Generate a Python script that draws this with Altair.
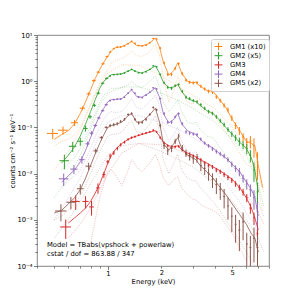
import altair as alt
import pandas as pd

SERIES = ["GM1 (x10)", "GM2 (x5)", "GM3", "GM4", "GM5 (x2)"]
COLORS = ["#ff7f0e", "#2ca02c", "#d62728", "#9467bd", "#8c564b"]
FONT = "DejaVu Sans"

# ---------- data bins above 1 keV (shared energy grid) ----------
HI_E = [1.03, 1.08, 1.13, 1.18, 1.24, 1.3, 1.36, 1.42, 1.49, 1.56,
        1.64, 1.72, 1.8, 1.88, 1.97, 2.07, 2.17, 2.28, 2.39, 2.5,
        2.62, 2.75, 2.88, 3.02, 3.17, 3.33, 3.5, 3.68, 3.87, 4.07,
        4.28, 4.5, 4.73, 4.97, 5.22, 5.48, 5.75, 6.03, 6.32, 6.62, 6.93]
HI_W = [0.012, 0.013, 0.013, 0.014, 0.015, 0.016, 0.016, 0.017, 0.018, 0.019,
        0.02, 0.021, 0.022, 0.023, 0.024, 0.025, 0.026, 0.027, 0.029, 0.03,
        0.032, 0.033, 0.035, 0.036, 0.038, 0.04, 0.042, 0.044, 0.046, 0.049,
        0.051, 0.054, 0.057, 0.06, 0.063, 0.066, 0.069, 0.072, 0.076, 0.08, 0.083]
ERR_BRIGHT = [0.05, 0.04, 0.04, 0.04, 0.04, 0.04, 0.04, 0.04, 0.04, 0.04,
              0.04, 0.04, 0.04, 0.04, 0.05, 0.07, 0.08, 0.08, 0.07, 0.06,
              0.08, 0.08, 0.08, 0.08, 0.08, 0.08, 0.08, 0.09, 0.09, 0.1,
              0.1, 0.11, 0.12, 0.14, 0.16, 0.2, 0.2, 0.25, 0.3, 0.45, 0.6]
ERR_GM3 = [0.12, 0.1, 0.09, 0.08, 0.07, 0.06, 0.06, 0.06, 0.05, 0.05,
           0.05, 0.05, 0.05, 0.05, 0.06, 0.07, 0.07, 0.07, 0.07, 0.07,
           0.07, 0.08, 0.08, 0.08, 0.08, 0.09, 0.09, 0.1, 0.1, 0.11,
           0.11, 0.12, 0.12, 0.13, 0.14, 0.15, 0.17, 0.2, 0.25, 0.3, 0.45]
ERR_GM5 = [0.08, 0.08, 0.08, 0.07, 0.07, 0.06, 0.06, 0.07, 0.08, 0.08,
           0.08, 0.07, 0.06, 0.06, 0.1, 0.15, 0.18, 0.17, 0.13, 0.12,
           0.16, 0.18, 0.2, 0.22, 0.22, 0.25, 0.28, 0.3, 0.35, 0.38,
           0.4, 0.45, 0.5, 0.55, 0.6, 0.65, 0.6, 0.75, 0.8, 0.7, 0.8]

GM1_HI = [4.3, 5.1, 5.5, 5.5, 5.8, 6.5, 7.3, 6.6, 5.9, 5.8,
          6.0, 6.8, 8.4, 8.2, 5.2, 2.5, 1.4, 1.4, 1.9, 2.4,
          1.45, 1.05, 0.95, 0.92, 0.93, 0.78, 0.68, 0.6, 0.58, 0.46,
          0.38, 0.3, 0.24, 0.16, 0.11, 0.085, 0.062, 0.047, 0.05, 0.04, 0.018]
GM2_HI = [1.3, 1.38, 1.4, 1.42, 1.5, 1.65, 1.8, 1.65, 1.52, 1.5,
          1.6, 1.8, 2.15, 2.05, 1.4, 0.92, 0.74, 0.7, 0.8, 0.85,
          0.6, 0.45, 0.42, 0.38, 0.36, 0.31, 0.26, 0.22, 0.2, 0.17,
          0.14, 0.115, 0.09, 0.072, 0.06, 0.05, 0.042, 0.035, 0.025, 0.012, 0.004]
GM3_HI = [0.024, 0.028, 0.035, 0.042, 0.048, 0.055, 0.06, 0.063, 0.068, 0.072,
          0.076, 0.08, 0.087, 0.08, 0.06, 0.046, 0.04, 0.037, 0.038, 0.039,
          0.033, 0.027, 0.025, 0.024, 0.022, 0.02, 0.017, 0.015, 0.014, 0.012,
          0.011, 0.0095, 0.0082, 0.0072, 0.006, 0.005, 0.004, 0.003, 0.0018, 0.0011, 0.0005]
GM4_HI = [0.38, 0.4, 0.41, 0.41, 0.45, 0.55, 0.66, 0.55, 0.45, 0.44,
          0.5, 0.58, 0.72, 0.68, 0.42, 0.2, 0.13, 0.13, 0.17, 0.2,
          0.12, 0.08, 0.075, 0.072, 0.07, 0.056, 0.046, 0.04, 0.034, 0.03,
          0.027, 0.024, 0.02, 0.016, 0.013, 0.011, 0.008, 0.006, 0.0045, 0.003, 0.0015]
GM5_HI = [0.11, 0.115, 0.12, 0.135, 0.15, 0.19, 0.2, 0.15, 0.125, 0.13,
          0.15, 0.19, 0.27, 0.24, 0.11, 0.04, 0.031, 0.035, 0.05, 0.065,
          0.036, 0.028, 0.024, 0.021, 0.022, 0.015, 0.013, 0.01, 0.0075, 0.0058,
          0.0045, 0.0032, 0.002, 0.0012, 0.0008, 0.0006, 0.0009, 0.0003, 0.00025, 0.0004, 0.00025]

# ---------- wide low-energy bins (per group) ----------
GM1_LO_E = [0.49, 0.56, 0.65, 0.72, 0.78, 0.835, 0.885, 0.94, 0.99]
GM1_LO_W = [0.035, 0.035, 0.03, 0.025, 0.02, 0.02, 0.02, 0.02, 0.02]
GM1_LO_V = [0.074, 0.087, 0.126, 0.26, 0.53, 1.03, 1.57, 2.38, 3.4]
GM1_LO_ERR = [0.25, 0.2, 0.15, 0.1, 0.08, 0.06, 0.05, 0.05, 0.04]

GM2_LO_E = [0.57, 0.635, 0.70, 0.75, 0.795, 0.84, 0.885, 0.935, 0.985]
GM2_LO_W = [0.035, 0.03, 0.025, 0.02, 0.02, 0.02, 0.02, 0.02, 0.02]
GM2_LO_V = [0.019, 0.039, 0.05, 0.095, 0.17, 0.3, 0.55, 0.9, 1.15]
GM2_LO_ERR = [0.35, 0.25, 0.2, 0.15, 0.1, 0.08, 0.06, 0.05, 0.05]

GM3_LO_E = [0.58, 0.66, 0.75, 0.81, 0.88, 0.95, 1.0]
GM3_LO_W = [0.04, 0.035, 0.03, 0.025, 0.02, 0.02, 0.02]
GM3_LO_V = [0.0007, 0.0025, 0.0025, 0.0019, 0.0049, 0.0095, 0.018]
GM3_LO_ERR = [0.45, 0.35, 0.3, 0.35, 0.25, 0.15, 0.1]

GM4_LO_E = [0.565, 0.645, 0.715, 0.77, 0.81, 0.85, 0.89, 0.935, 0.98]
GM4_LO_W = [0.035, 0.03, 0.025, 0.02, 0.02, 0.02, 0.02, 0.02, 0.02]
GM4_LO_V = [0.0077, 0.0125, 0.02, 0.044, 0.075, 0.11, 0.16, 0.23, 0.31]
GM4_LO_ERR = [0.3, 0.22, 0.18, 0.12, 0.1, 0.08, 0.06, 0.05, 0.05]

GM5_LO_E = [0.545, 0.62, 0.70, 0.78, 0.855, 0.92, 0.98]
GM5_LO_W = [0.04, 0.035, 0.03, 0.03, 0.025, 0.02, 0.02]
GM5_LO_V = [0.00155, 0.0024, 0.0047, 0.0145, 0.031, 0.06, 0.1]
GM5_LO_ERR = [0.4, 0.3, 0.25, 0.18, 0.12, 0.08, 0.06]

# ---------- model curves (total and vpshock component) ----------
MOD_E = [0.5, 0.55, 0.6, 0.65, 0.7, 0.75, 0.8, 0.85, 0.9, 0.95,
         1.0, 1.05, 1.1, 1.2, 1.3, 1.36, 1.45, 1.55, 1.7, 1.85,
         1.95, 2.05, 2.2, 2.35, 2.47, 2.6, 2.8, 3.0, 3.12, 3.3,
         3.6, 3.9, 4.2, 4.6, 5.0, 5.5, 6.0, 6.4, 6.7, 7.0, 7.4]
GM1_MOD = [0.055, 0.07, 0.085, 0.12, 0.2, 0.36, 0.65, 1.15, 1.8, 2.6,
           3.5, 4.6, 5.3, 5.6, 6.5, 7.2, 6.0, 5.8, 6.5, 8.6,
           5.5, 2.6, 1.35, 1.7, 2.5, 1.5, 1.0, 0.92, 0.95, 0.78,
           0.63, 0.6, 0.42, 0.27, 0.15, 0.085, 0.05, 0.045, 0.04, 0.015, 0.005]
GM2_MOD = [None, 0.017, 0.025, 0.038, 0.065, 0.12, 0.22, 0.4, 0.7, 1.0,
           1.2, 1.4, 1.4, 1.45, 1.65, 1.8, 1.6, 1.5, 1.75, 2.15,
           1.5, 0.95, 0.72, 0.75, 0.85, 0.6, 0.42, 0.38, 0.36, 0.3,
           0.23, 0.2, 0.15, 0.1, 0.07, 0.048, 0.035, 0.022, 0.012, 0.004, None]
GM3_MOD = [None, None, 0.00085, 0.0011, 0.0014, 0.0018, 0.0025, 0.0038, 0.006, 0.01,
           0.017, 0.025, 0.033, 0.045, 0.055, 0.06, 0.065, 0.07, 0.078, 0.085,
           0.065, 0.048, 0.04, 0.038, 0.04, 0.033, 0.028, 0.025, 0.023, 0.02,
           0.017, 0.014, 0.012, 0.0095, 0.0075, 0.005, 0.003, 0.0018, 0.0011, 0.0006, None]
GM4_MOD = [None, 0.0065, 0.009, 0.012, 0.018, 0.032, 0.06, 0.11, 0.18, 0.26,
           0.36, 0.4, 0.4, 0.42, 0.55, 0.65, 0.47, 0.45, 0.55, 0.72,
           0.45, 0.2, 0.125, 0.15, 0.2, 0.12, 0.085, 0.075, 0.07, 0.055,
           0.042, 0.036, 0.028, 0.022, 0.016, 0.011, 0.0065, 0.0045, 0.003, 0.0012, None]
GM5_MOD = [0.0014, 0.0016, 0.0022, 0.003, 0.0045, 0.008, 0.015, 0.027, 0.045, 0.07,
           0.1, 0.11, 0.115, 0.13, 0.18, 0.2, 0.13, 0.13, 0.18, 0.26,
           0.13, 0.045, 0.032, 0.045, 0.06, 0.035, 0.025, 0.022, 0.02, 0.015,
           0.011, 0.008, 0.0055, 0.0035, 0.0022, 0.0013, 0.0008, 0.0005, 0.0004, 0.0002, None]

GM1_VPS = [0.04, 0.05, 0.055, 0.07, 0.1, 0.18, 0.32, 0.55, 0.9, 1.3,
           1.8, 2.4, 2.8, 3.1, 3.8, 4.6, 3.6, 3.4, 4.2, 6.2,
           3.6, 1.2, 0.35, 0.6, 1.3, 0.6, 0.35, 0.32, 0.38, 0.28,
           0.2, 0.22, 0.13, 0.08, 0.05, 0.028, 0.016, 0.014, 0.02, 0.005, 0.0015]
GM2_VPS = [None, 0.012, 0.016, 0.022, 0.035, 0.06, 0.11, 0.2, 0.35, 0.5,
           0.62, 0.7, 0.7, 0.72, 0.85, 1.0, 0.8, 0.72, 0.95, 1.3,
           0.75, 0.35, 0.22, 0.3, 0.4, 0.22, 0.13, 0.12, 0.13, 0.09,
           0.065, 0.06, 0.04, 0.025, 0.015, 0.009, 0.005, 0.004, 0.004, 0.001, None]
GM3_VPS = [None, None, None, None, None, None, 0.0003, 0.001, 0.003, 0.006,
           0.011, 0.012, 0.0095, 0.0055, 0.012, 0.02, 0.014, 0.011, 0.016, 0.026,
           0.016, 0.008, 0.0055, 0.0075, 0.0085, 0.0048, 0.0035, 0.0028, 0.0027, 0.0022,
           0.0018, 0.0016, 0.0013, 0.0008, 0.0005, 0.00025, 0.00013, None, None, None, None]
GM4_VPS = [None, 0.005, 0.007, 0.009, 0.012, 0.02, 0.035, 0.065, 0.1, 0.15,
           0.2, 0.22, 0.21, 0.22, 0.32, 0.42, 0.27, 0.25, 0.34, 0.5,
           0.28, 0.1, 0.05, 0.07, 0.1, 0.05, 0.03, 0.028, 0.03, 0.02,
           0.014, 0.013, 0.009, 0.006, 0.004, 0.0025, 0.0014, 0.001, 0.0009, 0.0003, None]
GM5_VPS = [0.001, 0.0012, 0.0016, 0.0022, 0.0032, 0.0055, 0.01, 0.018, 0.03, 0.045,
           0.065, 0.07, 0.07, 0.08, 0.12, 0.14, 0.08, 0.075, 0.11, 0.18,
           0.08, 0.02, 0.01, 0.017, 0.026, 0.012, 0.008, 0.007, 0.007, 0.005,
           0.0035, 0.0025, 0.0017, 0.001, 0.0006, 0.00035, 0.0002, 0.00013, 0.0001, None, None]

# ---------- powerlaw component ----------
PL_E = [0.5, 0.6, 0.7, 0.8, 0.9, 1.0, 1.2, 1.5, 2.0, 2.5, 3.0, 4.0, 5.0, 6.0, 7.0, 7.5]
GM1_PL = [0.012, 0.03, 0.09, 0.3, 0.8, 1.5, 2.3, 2.2, 1.3, 0.75, 0.5, 0.25, 0.1, 0.035, 0.01, 0.004]
GM2_PL = [0.003, 0.008, 0.025, 0.09, 0.3, 0.55, 0.75, 0.75, 0.55, 0.38, 0.26, 0.13, 0.055, 0.025, 0.006, 0.002]
GM3_PL = [None, 0.0004, 0.0008, 0.0018, 0.0045, 0.01, 0.028, 0.045, 0.042, 0.032, 0.024, 0.013, 0.0075, 0.0035, 0.0015, 0.0008]
GM4_PL = [0.001, 0.003, 0.008, 0.025, 0.07, 0.13, 0.18, 0.18, 0.13, 0.09, 0.06, 0.032, 0.016, 0.007, 0.0025, 0.0012]
GM5_PL = [0.0004, 0.001, 0.0025, 0.006, 0.013, 0.025, 0.04, 0.045, 0.03, 0.02, 0.014, 0.006, 0.0025, 0.001, 0.0004, 0.0002]

TEXT_LINES = ["Model = TBabs(vpshock + powerlaw)", "cstat / dof = 863.88 / 347"]
X_TICKS = [0.4, 0.5, 0.6, 0.7, 0.8, 0.9, 1, 2, 3, 4, 5, 6, 7, 8]
Y_TICKS = [m * 10.0 ** k for k in range(-4, 1) for m in range(1, 10)] + [10.0]

groups = [
    (SERIES[0], GM1_LO_E, GM1_LO_W, GM1_LO_V, GM1_LO_ERR, GM1_HI, ERR_BRIGHT, GM1_MOD, GM1_VPS, GM1_PL),
    (SERIES[1], GM2_LO_E, GM2_LO_W, GM2_LO_V, GM2_LO_ERR, GM2_HI, ERR_BRIGHT, GM2_MOD, GM2_VPS, GM2_PL),
    (SERIES[2], GM3_LO_E, GM3_LO_W, GM3_LO_V, GM3_LO_ERR, GM3_HI, ERR_GM3, GM3_MOD, GM3_VPS, GM3_PL),
    (SERIES[3], GM4_LO_E, GM4_LO_W, GM4_LO_V, GM4_LO_ERR, GM4_HI, ERR_BRIGHT, GM4_MOD, GM4_VPS, GM4_PL),
    (SERIES[4], GM5_LO_E, GM5_LO_W, GM5_LO_V, GM5_LO_ERR, GM5_HI, ERR_GM5, GM5_MOD, GM5_VPS, GM5_PL),
]

pts, lines, comps = [], [], []
for name, le, lw, lv, lerr, hv, herr, mod, vps, pl in groups:
    for e, w, v, f in list(zip(le, lw, lv, lerr)) + list(zip(HI_E, HI_W, hv, herr)):
        pts.append(dict(series=name, E=e, Elo=e - w, Ehi=e + w, v=v,
                        vlo=max(v * (1 - f), 2e-5), vhi=v * (1 + f)))
    for e, m in zip(MOD_E, mod):
        if m is not None:
            lines.append(dict(series=name, E=e, v=m))
    for e, m in zip(MOD_E, vps):
        if m is not None:
            comps.append(dict(series=name, comp=name + " vps", E=e, v=m))
    for e, m in zip(PL_E, pl):
        if m is not None:
            comps.append(dict(series=name, comp=name + " pl", E=e, v=m))

df_pts = pd.DataFrame(pts)
df_lines = pd.DataFrame(lines)
df_comps = pd.DataFrame(comps)

xscale = alt.Scale(type="log", domain=[0.4, 8.04], nice=False)
yscale = alt.Scale(type="log", domain=[1e-4, 10], nice=False)
cscale = alt.Scale(domain=SERIES, range=COLORS)

LEG = alt.Legend(
    title=None, orient="none", legendX=174, legendY=4, padding=3,
    strokeColor="#d0d0d0", fillColor="white", cornerRadius=2,
    symbolType="M-1,0H1M0,-1V1", symbolSize=60, symbolStrokeWidth=1,
    symbolOpacity=1, symbolFillColor="transparent", clipHeight=9,
    labelFontSize=6.8, labelFont=FONT, labelOffset=7, rowPadding=0.2)
color_enc = alt.Color("series:N", scale=cscale, legend=LEG)

y_label_expr = ("datum.value > 9.9 ? '10\u00b9' : abs(datum.value-1) < 1e-9 ? '10\u2070' : "
                "abs(datum.value-0.1) < 1e-10 ? '10\u207b\u00b9' : abs(datum.value-0.01) < 1e-11 ? '10\u207b\u00b2' : "
                "abs(datum.value-0.001) < 1e-12 ? '10\u207b\u00b3' : abs(datum.value-0.0001) < 1e-13 ? '10\u207b\u2074' : ''")
x_label_expr = "(datum.value == 1 || datum.value == 2 || datum.value == 5) ? format(datum.value, 'd') : ''"

xaxis = alt.Axis(values=X_TICKS, labelExpr=x_label_expr, title="Energy (keV)", grid=False,
                 domain=False, labelOverlap=False, labelFlush=False, labelPadding=1, titlePadding=1,
                 tickSize={"condition": {"test": "datum.value == 1", "value": 3.5}, "value": 2})
yaxis = alt.Axis(values=Y_TICKS, labelExpr=y_label_expr, title="counts cm\u207b\u00b2 s\u207b\u00b9 keV\u207b\u00b9",
                 grid=False, domain=False, labelOverlap=False, labelPadding=1.5, titlePadding=2,
                 tickSize={"condition": {"test": "abs(log(datum.value)/LN10 - round(log(datum.value)/LN10)) < 0.001",
                                         "value": 3.5}, "value": 2})

comp_layer = alt.Chart(df_comps).mark_line(strokeDash=[1, 1.3], strokeWidth=0.8, opacity=0.4, clip=True).encode(
    x=alt.X("E:Q", scale=xscale, axis=xaxis), y=alt.Y("v:Q", scale=yscale, axis=yaxis),
    color=color_enc, detail="comp:N", order="E:Q")

model_layer = alt.Chart(df_lines).mark_line(strokeWidth=0.8, clip=True).encode(
    x=alt.X("E:Q", scale=xscale), y=alt.Y("v:Q", scale=yscale),
    color=color_enc, detail="series:N", order="E:Q")

hbar = alt.Chart(df_pts).mark_rule(strokeWidth=1, clip=True).encode(
    x=alt.X("Elo:Q", scale=xscale), x2="Ehi:Q", y=alt.Y("v:Q", scale=yscale),
    color=color_enc)

vbar = alt.Chart(df_pts).mark_rule(strokeWidth=1, clip=True).encode(
    x=alt.X("E:Q", scale=xscale), y=alt.Y("vlo:Q", scale=yscale), y2="vhi:Q",
    color=color_enc)

txt1 = alt.Chart(pd.DataFrame({"t": [TEXT_LINES[0]]})).mark_text(
    align="left", baseline="middle", fontSize=6.8, font=FONT, color="black").encode(
    x=alt.value(10), y=alt.value(210), text="t:N")
txt2 = alt.Chart(pd.DataFrame({"t": [TEXT_LINES[1]]})).mark_text(
    align="left", baseline="middle", fontSize=6.8, font=FONT, color="black").encode(
    x=alt.value(10), y=alt.value(219), text="t:N")

chart = alt.layer(hbar, vbar, model_layer, comp_layer, txt1, txt2).properties(
    width=232, height=231,
    autosize=alt.AutoSizeParams(type="none"),
    padding={"left": 29, "top": 27, "right": 22, "bottom": 25},
).configure_view(stroke="#666", strokeWidth=0.8).configure_axis(
    labelFont=FONT, titleFont=FONT, labelFontSize=6.8, titleFontSize=6.8,
    titleFontWeight="normal", labelColor="black", titleColor="black",
    tickColor="#444", tickWidth=0.7)

chart.save("out.html", embed_options={"renderer": "svg", "actions": False})
